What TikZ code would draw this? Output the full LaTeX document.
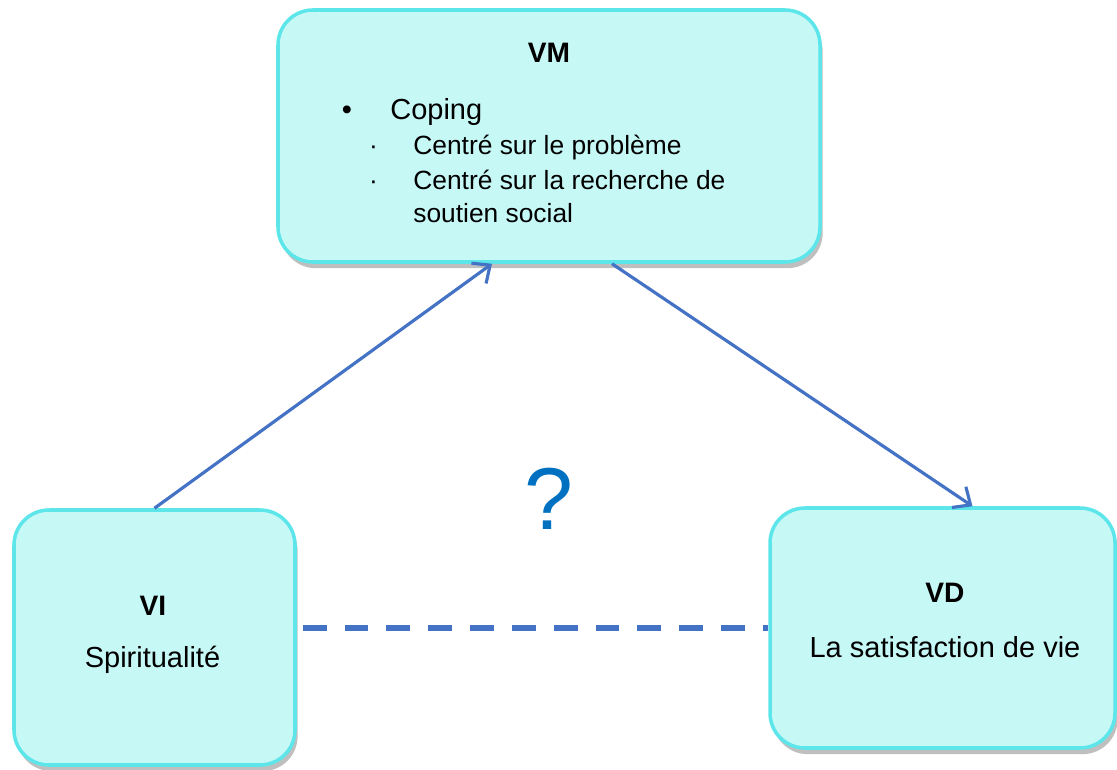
\documentclass[tikz,border=0pt]{standalone}
\usepackage{fontspec}
\setmainfont{Liberation Sans}
\usetikzlibrary{arrows.meta}
\usetikzlibrary{calc}
\usetikzlibrary{shadows}
\definecolor{boxfill}{RGB}{198,248,246}
\definecolor{boxline}{RGB}{92,230,234}
\definecolor{arrowblue}{RGB}{68,114,196}
\definecolor{qblue}{RGB}{0,112,192}

\tikzset{
    varbox/.style={draw=boxline, line width=2pt, fill=boxfill, inner sep=0pt,
        rounded corners=0.7cm,
        drop shadow={shadow xshift=1.5pt, shadow yshift=-3.5pt, opacity=0.25, fill=black}},
    boxtitle/.style={anchor=base, font=\fontsize{16}{19}\selectfont\bfseries},
    boxtext/.style={anchor=base, font=\fontsize{16.5}{20}\selectfont},
    subtext/.style={anchor=base west, font=\fontsize{15}{18}\selectfont},
    link/.style={arrowblue, line width=1.8pt, -{Straight Barb[length=0.28cm,width=0.5cm]}},
    dashlink/.style={arrowblue, line width=3pt, dash pattern=on 13.6pt off 10.2pt}
}

\begin{document}
\begin{tikzpicture}
            \useasboundingbox (0,0) rectangle (22.34,15.38);
            \node[varbox, minimum width=10.84cm, minimum height=5.04cm] (vm) at (10.98,12.66) {};
            \node[varbox, minimum width=5.62cm, minimum height=5.1cm] (vi) at (3.09,2.63) {};
            \node[varbox, minimum width=6.9cm, minimum height=4.8cm] (vd) at (18.85,2.82) {};
            \node[boxtitle] (vmtitle) at (10.98,14.12) {VM};
            \node[boxtext] (bullet) at (6.94,12.98) {\textbullet};
            \node[boxtext, anchor=base west, inner sep=0pt] (coping) at (7.8,12.98) {Coping};
            \node[subtext] (dota) at (7.26,12.28) {·};
            \node[subtext, inner sep=0pt] (suba) at (8.26,12.28) {Centré sur le problème};
            \node[subtext] (dotb) at (7.26,11.58) {·};
            \node[subtext, inner sep=0pt] (subb) at (8.26,11.58) {Centré sur la recherche de};
            \node[subtext, inner sep=0pt] (subc) at (8.26,10.92) {soutien social};
            \node[boxtitle] (vititle) at (3.06,3.08) {VI};
            \node[boxtext] (vitext) at (3.05,2.04) {Spiritualité};
            \node[boxtitle] (vdtitle) at (18.9,3.34) {VD};
            \node[boxtext] (vdtext) at (18.9,2.24) {La satisfaction de vie};
            \node[anchor=base, text=qblue, font=\fontsize{50}{60}\selectfont] (question) at (10.98,4.78) {?};
            \draw[link] (vi.north) -- ([xshift=-1.14cm]vm.south);
            \draw[link] ([xshift=1.26cm]vm.south) -- ([xshift=0.6cm]vd.north);
            \draw[dashlink] ([xshift=0.12cm]vi.east |- vd.west) -- (vd.west);
\end{tikzpicture}
\end{document}
